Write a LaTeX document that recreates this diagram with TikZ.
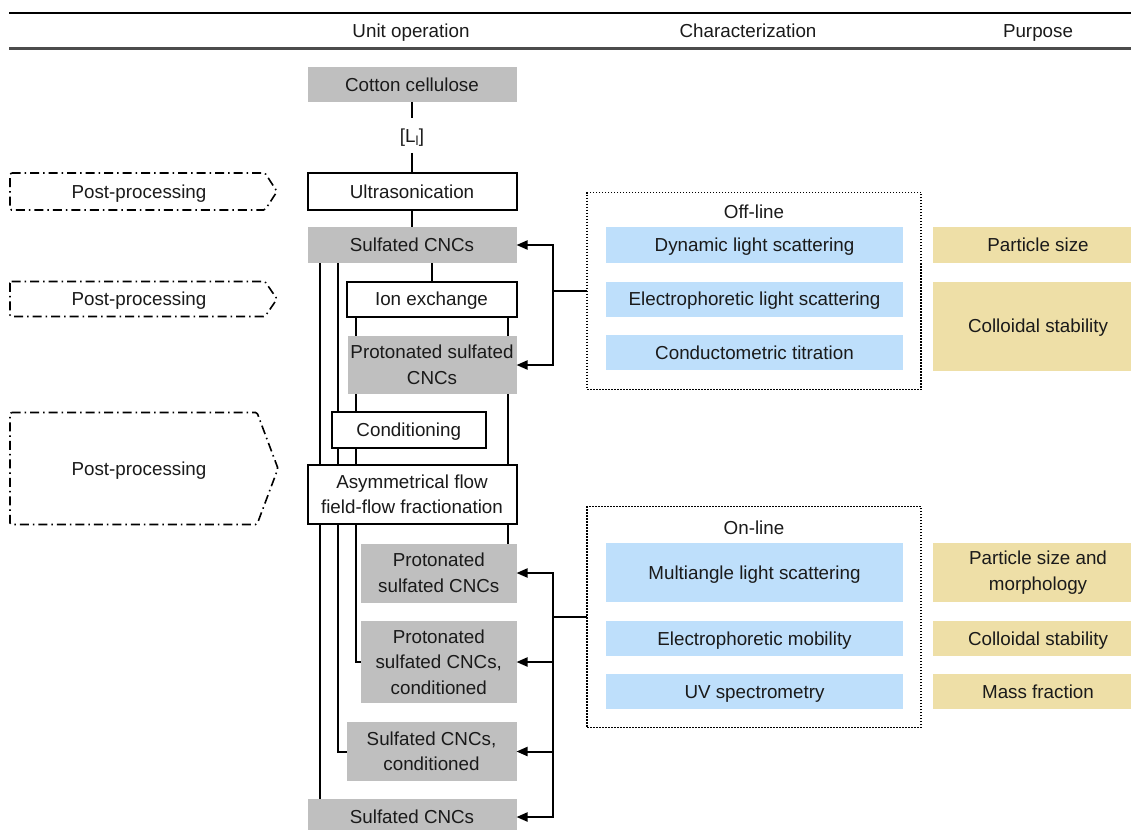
\documentclass[tikz,border=0pt]{standalone}
\usepackage{fontspec}
\setmainfont{Liberation Sans}
\usetikzlibrary{arrows.meta,calc}
\definecolor{cgray}{RGB}{191,191,191}
\definecolor{cblue}{RGB}{190,223,251}
\definecolor{ctan}{RGB}{238,223,167}
\definecolor{ctext}{RGB}{26,26,26}
\begin{document}
\begin{tikzpicture}[x=1pt,y=-1pt,
  every node/.style={font=\fontsize{18.8}{25.5}\selectfont, text=ctext, inner sep=0pt, outer sep=0pt, align=center, text height=13.5pt, text depth=0pt},
  ml/.style={text height={}, text depth={}},
  sample/.style={fill=cgray},
  unit/.style={draw=black, line width=2pt, fill=white},
  tech/.style={fill=cblue},
  purp/.style={fill=ctan},
  conn/.style={line width=2pt, draw=black},
  arr/.style={conn, -{Triangle[length=11pt,width=9pt]}},
  ppbox/.style={line width=1.6pt, dash pattern=on 9pt off 4pt on 1.5pt off 4pt, rounded corners=1.5pt},
  grp/.style={draw=black, line width=1.3pt, dash pattern=on 1.5pt off 1.5pt}]
\useasboundingbox (0,0) rectangle (1131,829);
\clip (0,0) rectangle (1131,829);

% header
\draw[line width=2pt] (9,13) -- (1131,13);
\draw[line width=2.5pt, draw=black!70] (9,48.5) -- (1131,48.5);
\node (h1) at (411,31) {Unit operation};
\node (h2) at (748,31) {Characterization};
\node (h3) at (1038,31) {Purpose};

% unit operation column
\node[sample, minimum width=209pt, minimum height=35pt] (cotton) at (412,84.5) {Cotton cellulose};
\node[minimum height=35pt] (lbl) at (412,135.5) {[L\textsubscript{l}]};
\node[unit, minimum width=209pt, minimum height=37pt] (ultra) at (412,191.5) {Ultrasonication};
\node[sample, minimum width=209pt, minimum height=36pt] (sulf1) at (412,245) {Sulfated CNCs};
\node[unit, minimum width=170pt, minimum height=35pt] (ion) at (431.5,299) {Ion exchange};
\node[sample, ml, minimum width=169pt, minimum height=58.5pt] (prot1) at (432,365) {Protonated sulfated\\CNCs};
\node[unit, minimum width=154.5pt, minimum height=36pt] (cond) at (408.75,430) {Conditioning};
\node[unit, ml, minimum width=209pt, minimum height=59pt] (af4) at (412,494.5) {Asymmetrical flow\\field-flow fractionation};
\node[sample, ml, minimum width=155.5pt, minimum height=59pt] (prot2) at (438.75,573) {Protonated\\sulfated CNCs};
\node[sample, ml, minimum width=155.5pt, minimum height=82pt] (prot3) at (438.75,662) {Protonated\\sulfated CNCs,\\conditioned};
\node[sample, ml, minimum width=170pt, minimum height=59pt] (sulf3) at (431.5,751.5) {Sulfated CNCs,\\conditioned};
\node[sample, minimum width=209pt, minimum height=36pt] (sulf4) at (412,817) {Sulfated CNCs};

% post-processing
\node (pp1) at (139,191.5) {Post-processing};
\draw[ppbox] (10,173) -- (265,173) -- (277,191.5) -- (265,210) -- (10,210) -- cycle;
\node (pp2) at (139,299) {Post-processing};
\draw[ppbox] (10,281.5) -- (265,281.5) -- (277,299) -- (265,316.5) -- (10,316.5) -- cycle;
\node (pp3) at (139,468.5) {Post-processing};
\draw[ppbox] (10,412.5) -- (257,412.5) -- (278,468.5) -- (257,524.5) -- (10,524.5) -- cycle;

% vertical routes
\coordinate (xA) at (320,0);
\coordinate (xB) at (338,0);
\coordinate (xC) at (356,0);
\coordinate (xD) at (508,0);

\draw[conn] (cotton.south) -- (lbl.north);
\draw[conn] (lbl.south) -- (ultra.north);
\draw[conn] (ultra.south) -- (sulf1.north);
\draw[conn] (sulf1.south -| ion.north) -- (ion.north);

\draw[conn] (sulf1.south -| xA) -- (af4.north -| xA);
\draw[conn] (af4.south -| xA) -- (sulf4.north -| xA);

\draw[conn] (sulf1.south -| xB) -- (cond.north -| xB);
\draw[conn] (cond.south -| xB) -- (af4.north -| xB);
\draw[conn] (af4.south -| xB) |- (sulf3.west);

\draw[conn] (ion.south -| xC) -- (prot1.north -| xC);
\draw[conn] (prot1.south -| xC) -- (cond.north -| xC);
\draw[conn] (cond.south -| xC) -- (af4.north -| xC);
\draw[conn] (af4.south -| xC) |- (prot3.west);

\draw[conn] (ion.south -| xD) -- (prot1.north -| xD);
\draw[conn] (prot1.south -| xD) -- (af4.north -| xD);
\draw[conn] (af4.south -| xD) -- (prot2.north -| xD);

% characterization groups
\node[grp, minimum width=334pt, minimum height=197pt] (offbox) at (754,291) {};
\node (offl) at (754,211.7) {Off-line};
\node[tech, minimum width=297pt, minimum height=36pt] (dls) at (754.5,245) {Dynamic light scattering};
\node[tech, minimum width=297pt, minimum height=35pt] (els) at (754.5,299) {Electrophoretic light scattering};
\node[tech, minimum width=297pt, minimum height=35pt] (ct) at (754.5,352.5) {Conductometric titration};

\node[grp, minimum width=334pt, minimum height=220.5pt] (onbox) at (754,617) {};
\node (onl) at (754,527.3) {On-line};
\node[tech, minimum width=297pt, minimum height=59pt] (mals) at (754.5,572.5) {Multiangle light scattering};
\node[tech, minimum width=297pt, minimum height=35pt] (em) at (754.5,638.5) {Electrophoretic mobility};
\node[tech, minimum width=297pt, minimum height=35pt] (uv) at (754.5,691.5) {UV spectrometry};

% purpose
\node[purp, minimum width=210pt, minimum height=36pt] (p1) at (1038,245) {Particle size};
\node[purp, minimum width=210pt, minimum height=89pt] (p2) at (1038,326) {Colloidal stability};
\node[purp, ml, minimum width=210pt, minimum height=59pt] (p3) at (1038,572.5) {Particle size and\\morphology};
\node[purp, minimum width=210pt, minimum height=35pt] (p4) at (1038,638.5) {Colloidal stability};
\node[purp, minimum width=210pt, minimum height=35pt] (p5) at (1038,691.5) {Mass fraction};

% feedback arrows
\draw[conn] (offbox.west) -- ++(-34,0) coordinate (jA);
\draw[arr] (jA) |- (sulf1.east);
\draw[arr] (jA) |- (prot1.east);

\draw[conn] (onbox.west) -- ++(-34,0) coordinate (jB);
\draw[arr] (jB) |- (prot2.east);
\draw[arr] (jB) |- (prot3.east);
\draw[arr] (jB) |- (sulf3.east);
\draw[arr] (jB) |- (sulf4.east);
\end{tikzpicture}
\end{document}
